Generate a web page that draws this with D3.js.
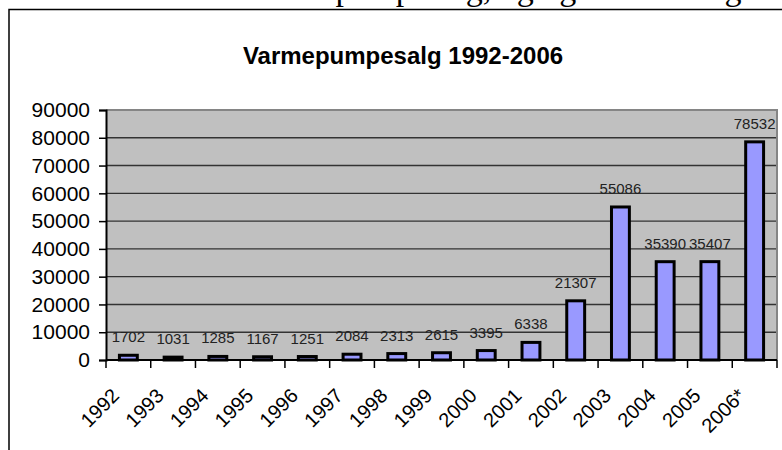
<!DOCTYPE html>
<html>
<head>
<meta charset="utf-8">
<script src="https://cdn.jsdelivr.net/npm/d3@7"></script>
<style>
  body { margin: 0; background: #fff; }
  svg { display: block; font-family: "Liberation Sans", Arial, sans-serif; }
</style>
</head>
<body>
<svg width="782" height="450"></svg>
<script>
// chart data
var title = "Varmepumpesalg 1992-2006";
var years = ["1992", "1993", "1994", "1995", "1996", "1997", "1998", "1999",
             "2000", "2001", "2002", "2003", "2004", "2005", "2006*"];
var sales = [1702, 1031, 1285, 1167, 1251, 2084, 2313, 2615,
             3395, 6338, 21307, 55086, 35390, 35407, 78532];
var yTicks = [0, 10000, 20000, 30000, 40000, 50000, 60000, 70000, 80000, 90000];

var svg = d3.select("svg");

var plot = {left: 106, right: 777, top: 110, bottom: 360};

// the body text of the page, cut off at the top edge
svg.append("text")
    .attr("x", 470)
    .attr("y", 0)
    .attr("text-anchor", "middle")
    .style("font-family", "'Liberation Serif', 'Times New Roman', serif")
    .style("font-size", "34px")
    .text("om varmepumpesalg, og også i 2006 og");

// chart frame
svg.append("rect")
    .attr("x", 9)
    .attr("y", 9.5)
    .attr("width", 800)
    .attr("height", 460)
    .attr("fill", "#fff")
    .attr("stroke", "#000")
    .attr("stroke-width", 1.5);

svg.append("text")
    .attr("x", 403)
    .attr("y", 64)
    .attr("text-anchor", "middle")
    .style("font-size", "24px")
    .style("font-weight", "bold")
    .text(title);

var y = d3.scaleLinear()
    .domain([0, 90000])
    .range([plot.bottom, plot.top]);

// one slot per year, bars centered in their slot
var xCat = d3.scaleBand()
    .domain(years)
    .range([plot.left, plot.right]);

var x = d3.scaleBand()
    .domain(years)
    .range([plot.left, plot.right])
    .paddingInner(0.6)
    .paddingOuter(0.3);

// plot area
svg.append("rect")
    .attr("x", plot.left)
    .attr("y", plot.top)
    .attr("width", plot.right - plot.left)
    .attr("height", plot.bottom - plot.top)
    .attr("fill", "#c0c0c0");

svg.append("g")
    .attr("class", "grid")
  .selectAll("line")
  .data(yTicks.filter(function(d) { return d > 0 && d < 90000; }))
  .enter().append("line")
    .attr("x1", plot.left)
    .attr("x2", plot.right)
    .attr("y1", function(d) { return y(d); })
    .attr("y2", function(d) { return y(d); })
    .attr("stroke", "#333")
    .attr("stroke-width", 1.4);

// grey border top and right
svg.append("path")
    .attr("d", "M" + plot.left + "," + plot.top + "H" + plot.right + "V" + plot.bottom)
    .attr("fill", "none")
    .attr("stroke", "#858585")
    .attr("stroke-width", 2);

svg.append("g")
    .attr("class", "bars")
  .selectAll("rect")
  .data(sales)
  .enter().append("rect")
    .attr("x", function(d, i) { return x(years[i]); })
    .attr("width", x.bandwidth())
    .attr("y", function(d) { return y(d); })
    .attr("height", function(d) { return plot.bottom - y(d); })
    .attr("fill", "#9999ff")
    .attr("stroke", "#000")
    .attr("stroke-width", 3);

svg.append("g")
    .attr("class", "labels")
  .selectAll("text")
  .data(sales)
  .enter().append("text")
    .attr("x", function(d, i) { return x(years[i]) + x.bandwidth() / 2; })
    .attr("y", function(d) { return y(d) - 13; })
    .attr("text-anchor", "middle")
    .style("font-size", "15px")
    .style("fill", "#222")
    .text(function(d) { return d; });

// y axis
var yAxis = svg.append("g")
    .attr("transform", "translate(" + plot.left + ",0)")
    .call(d3.axisLeft(y).tickValues(yTicks).tickSize(7).tickPadding(9).tickFormat(d3.format("d")));
yAxis.select(".domain").attr("stroke", "#000").attr("stroke-width", 2);
yAxis.selectAll(".tick line").attr("stroke", "#000").attr("stroke-width", 1.5);
yAxis.selectAll("text")
    .style("font-size", "21px")
    .style("font-family", "'Liberation Sans', Arial, sans-serif")
    .attr("fill", "#000");

// x axis: baseline, ticks between categories, rotated labels
var xAxis = svg.append("g").attr("class", "x-axis");
xAxis.append("line")
    .attr("x1", plot.left)
    .attr("x2", plot.right)
    .attr("y1", plot.bottom)
    .attr("y2", plot.bottom)
    .attr("stroke", "#000")
    .attr("stroke-width", 2);

var tickPos = years.map(function(d) { return xCat(d); }).concat([plot.right]);
xAxis.selectAll(".xtick")
  .data(tickPos)
  .enter().append("line")
    .attr("class", "xtick")
    .attr("x1", function(d) { return d; })
    .attr("x2", function(d) { return d; })
    .attr("y1", plot.bottom)
    .attr("y2", plot.bottom + 8)
    .attr("stroke", "#000")
    .attr("stroke-width", 1.5);

xAxis.selectAll(".xlabel")
  .data(years)
  .enter().append("text")
    .attr("class", "xlabel")
    .attr("text-anchor", "end")
    .attr("transform", function(d) {
      var cx = xCat(d) + xCat.bandwidth() / 2 - 8;
      return "translate(" + cx + "," + (plot.bottom + 37) + ") rotate(-45)";
    })
    .style("font-size", "20px")
    .text(function(d) { return d; });
</script>
</body>
</html>
